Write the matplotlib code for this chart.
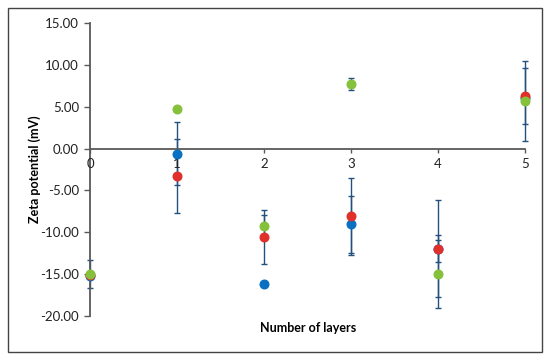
import matplotlib
matplotlib.use("Agg")
import matplotlib.pyplot as plt
from matplotlib.patches import Rectangle

# Number of layers and zeta potential (mV) per series
layers = [0, 1, 2, 3, 4, 5]

blue_mean = [-15.2, -0.6, -16.2, -9.05, -12.0, 6.0]
blue_err = [0, 3.8, 0, 3.4, 1.6, 0]

red_mean = [-15.1, -3.3, -10.6, -8.1, -12.0, 6.3]
red_err = [0, 4.4, 3.25, 4.6, 5.8, 3.4]

green_mean = [-15.0, 4.75, -9.3, 7.75, -15.0, 5.7]
green_err = [1.7, 0, 1.3, 0.7, 4.1, 4.75]

y_ticks = [-20, -15, -10, -5, 0, 5, 10, 15]

plt.rcParams["font.family"] = ["Lato", "DejaVu Sans"]

fig = plt.figure(figsize=(5.5, 3.61), dpi=100)
ax = fig.add_axes([90 / 550, 1 - 315.7 / 361, 435 / 550, (315.7 - 23.3) / 361])
ax.set_axisbelow(False)

err_color = "#24507e"
series = [
    (blue_mean, blue_err, "#0a70c2"),
    (red_mean, red_err, "#e0302c"),
    (green_mean, green_err, "#86c13c"),
]
for mean, err, color in series:
    ax.errorbar(layers, mean, yerr=err, fmt="none", ecolor=err_color,
                elinewidth=1.0, capsize=2.5, capthick=1.0, zorder=2,
                clip_on=False)
for mean, err, color in series:
    ax.plot(layers, mean, "o", color=color, markersize=6.2, zorder=3,
            clip_on=False)

ax.set_xlim(0, 5)
ax.set_ylim(-20, 15)
ax.set_yticks(y_ticks)
ax.set_yticklabels([f"{v:.2f}" for v in y_ticks])
ax.set_xticks(layers)

axis_color = "#595959"
ax.spines["top"].set_visible(False)
ax.spines["right"].set_visible(False)
ax.spines["bottom"].set_position(("data", 0))
for s in ("left", "bottom"):
    ax.spines[s].set_color(axis_color)
    ax.spines[s].set_linewidth(1.3)
    ax.spines[s].set_zorder(2.5)
ax.tick_params(axis="y", direction="out", length=4, width=1.0,
               color=axis_color, labelsize=9.5, pad=4, labelcolor="#222222")
ax.tick_params(axis="x", direction="out", length=3, width=1.0,
               color=axis_color, labelsize=9.5, pad=4, labelcolor="#222222")

ax.set_ylabel("Zeta potential (mV)", fontsize=9, fontweight="bold",
              va="center")
ax.yaxis.set_label_coords(-55 / 435, 0.5)
fig.text(308 / 550, 1 - 328 / 361, "Number of layers", fontsize=9,
         fontweight="bold", ha="center", va="center")

# outer chart border
fig.patches.append(Rectangle((7.5 / 550, 1 - 352.3 / 361),
                             (541.7 - 7.5) / 550, (352.3 - 8.3) / 361,
                             transform=fig.transFigure, fill=False,
                             edgecolor="#444444", linewidth=1.0))

fig.savefig("out.png", dpi=100)
